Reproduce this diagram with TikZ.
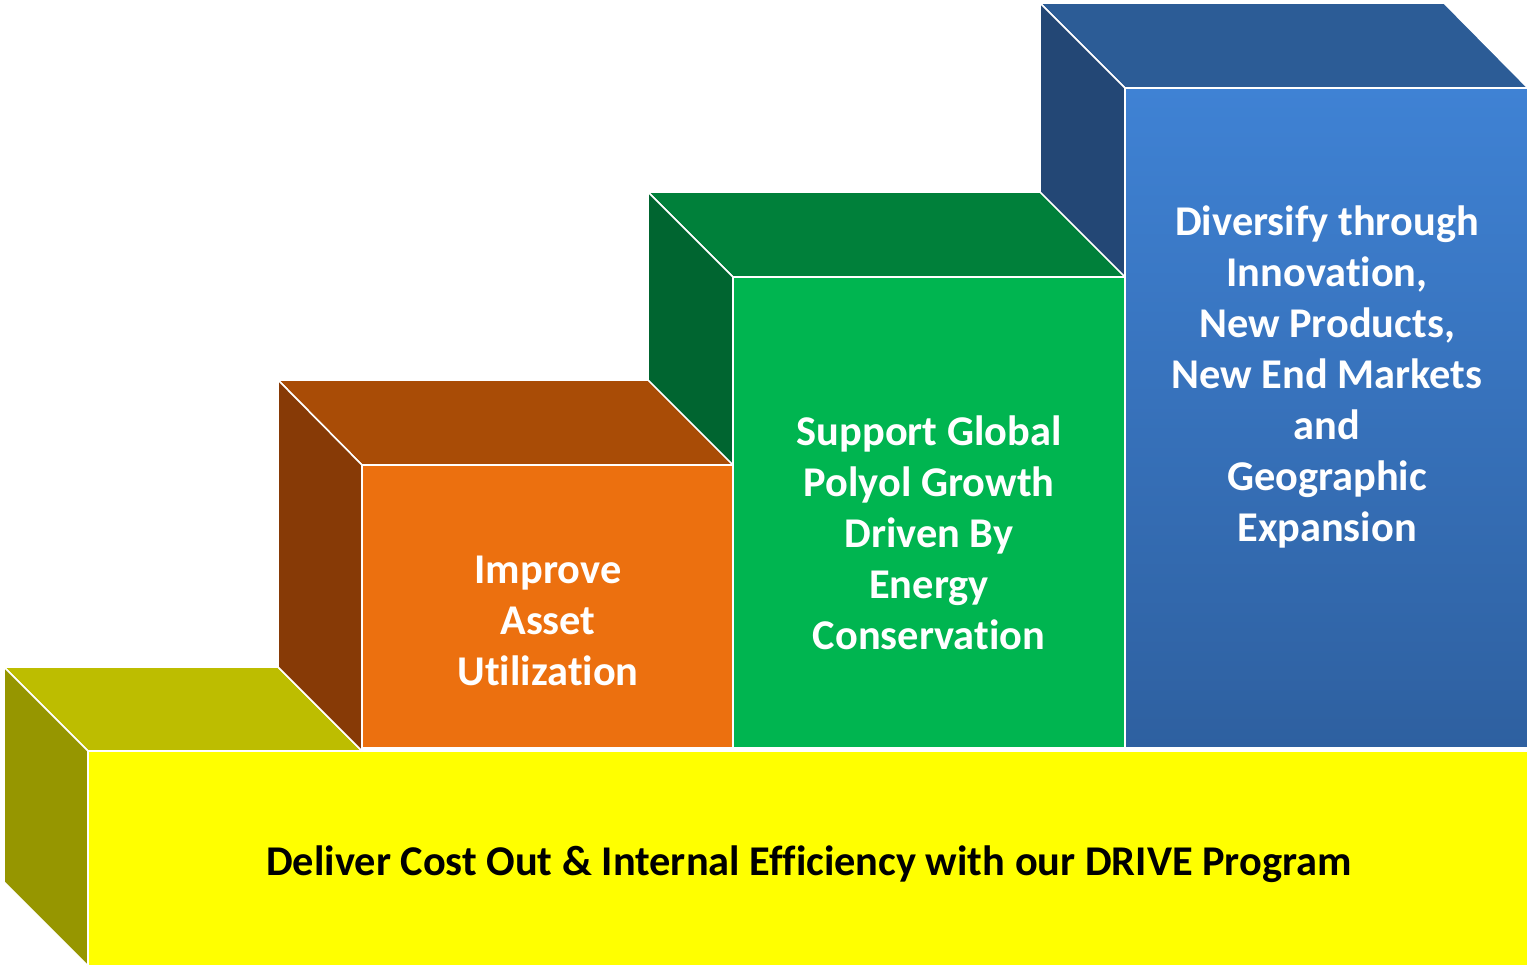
\documentclass[tikz,border=0pt]{standalone}
\usepackage{fontspec}
\setmainfont{Carlito}[Ligatures={NoCommon}]
\definecolor{yelfront}{HTML}{FFFF00}
\definecolor{yeltop}{HTML}{BDBD00}
\definecolor{yelside}{HTML}{969600}
\definecolor{orfront}{HTML}{EC700F}
\definecolor{ortop}{HTML}{A94C06}
\definecolor{orside}{HTML}{873A06}
\definecolor{grfront}{HTML}{00B550}
\definecolor{grtop}{HTML}{00803A}
\definecolor{grside}{HTML}{006530}
\definecolor{blfronttop}{HTML}{3F82D4}
\definecolor{blfrontbot}{HTML}{2E60A0}
\definecolor{bltop}{HTML}{2C5C96}
\definecolor{blside}{HTML}{234775}
\begin{document}
\begin{tikzpicture}[x=0.01cm,y=-0.01cm,line join=round,font=\bfseries\fontsize{12.05pt}{14.5pt}\selectfont]
                \tikzset{face/.style={draw=white,line width=0.45pt},
                         label style/.style={align=center,text=white,inner sep=0pt}}
                \useasboundingbox (0,0) rectangle (1528,966);
                % yellow box
                \draw[face,fill=yeltop] (4,667)--(278,667)--(362,751)--(88,751)--cycle;
                \draw[face,fill=yelside] (4,667)--(88,751)--(88,966)--(4,882)--cycle;
                \draw[face,fill=yelfront] (88,751) rectangle (1528,966);
                % blue box
                \draw[face,fill=bltop] (1040,3)--(1444,3)--(1528,88)--(1125,88)--cycle;
                \draw[face,fill=blside] (1040,3)--(1125,88)--(1125,748)--(1040,663)--cycle;
                \draw[face,top color=blfronttop,bottom color=blfrontbot] (1125,88) rectangle (1528,748);
                % green box
                \draw[face,fill=grtop] (648,192)--(1040,192)--(1125,277)--(733,277)--cycle;
                \draw[face,fill=grside] (648,192)--(733,277)--(733,748)--(648,663)--cycle;
                \draw[face,fill=grfront] (733,277) rectangle (1125,748);
                % orange box
                \draw[face,fill=ortop] (278,380)--(648,380)--(733,465)--(362,465)--cycle;
                \draw[face,fill=orside] (278,380)--(362,465)--(362,751)--(278,667)--cycle;
                \draw[face,fill=orfront] (362,465) rectangle (733,748);
                % texts
                \node[label style] (asset) at (548,621) {Improve\\Asset\\Utilization};
                \node[label style] (polyol) at (929,533) {Support Global\\Polyol Growth\\Driven By\\Energy\\Conservation};
                \node[label style] (diversify) at (1327,377) {Diversify through\\Innovation,\\New Products,\\New End Markets\\and\\Geographic\\Expansion};
                \node[label style,text=black] (drive) at (809,864) {Deliver Cost Out \& Internal Efficiency with our DRIVE Program};
\end{tikzpicture}
\end{document}
